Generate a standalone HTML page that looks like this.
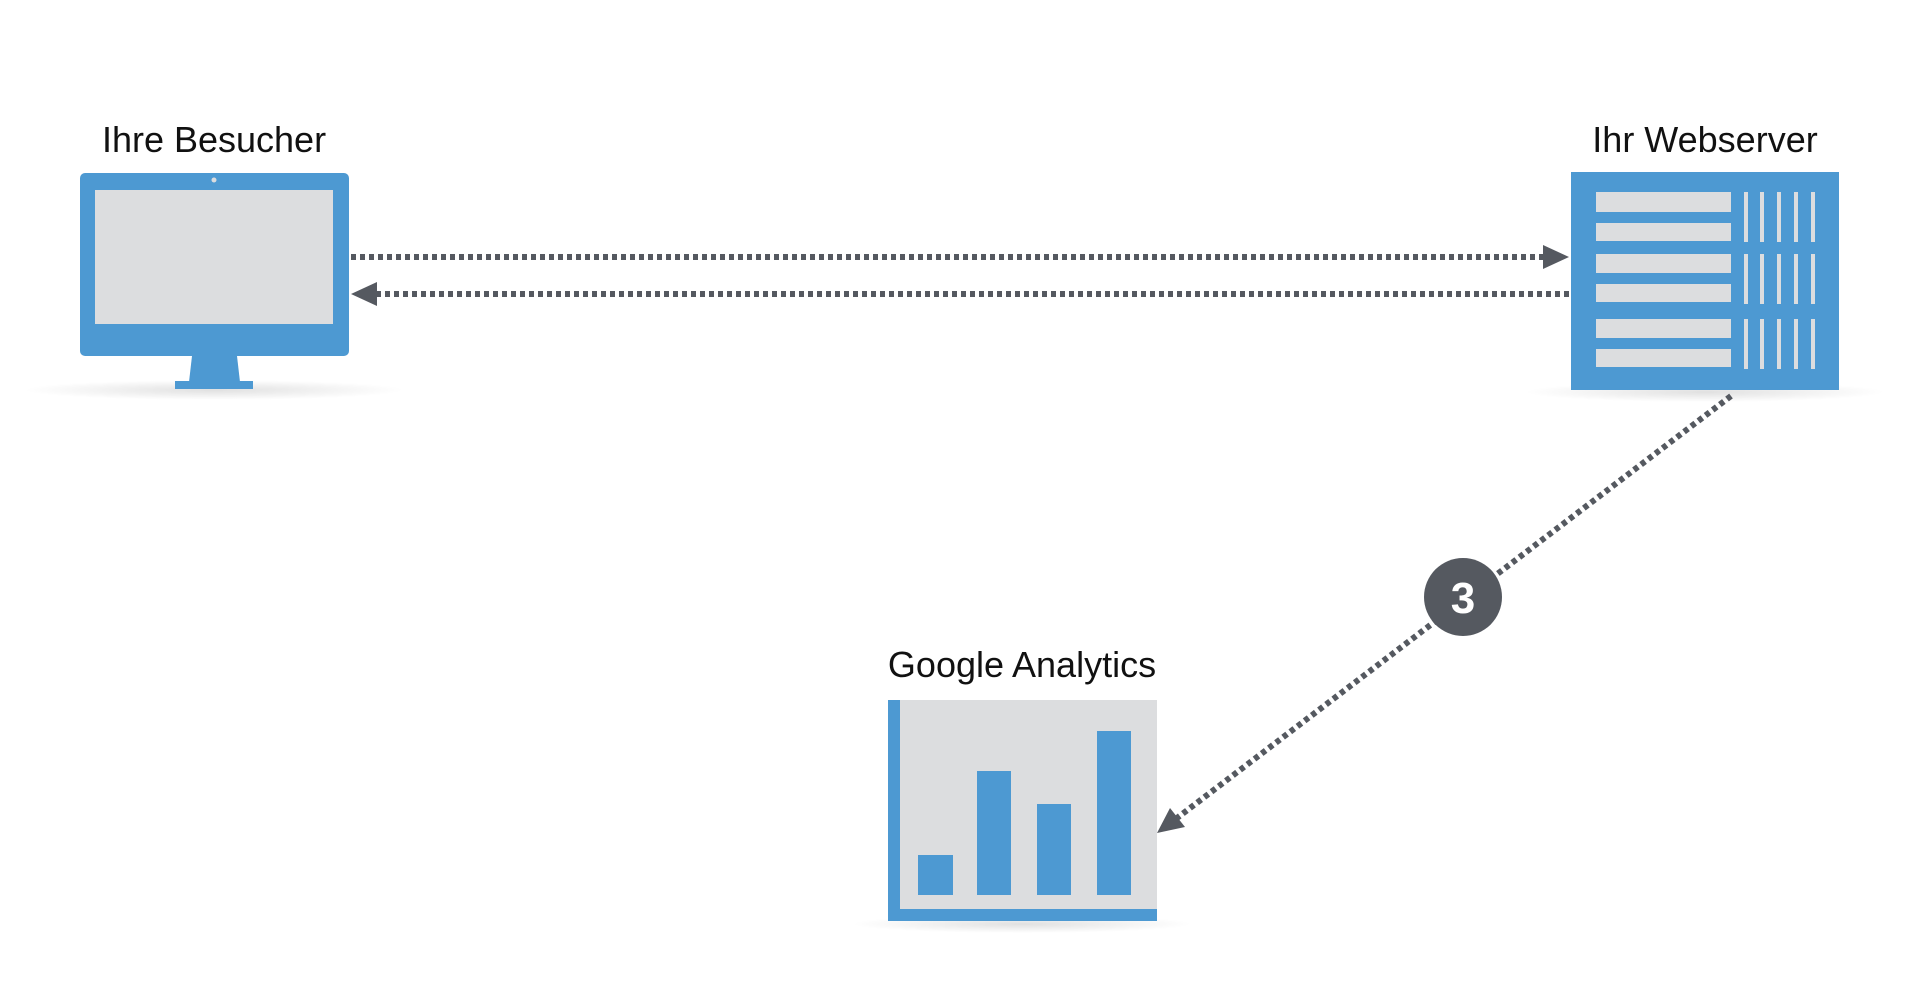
<!DOCTYPE html>
<html><head><meta charset="utf-8"><style>
html,body{margin:0;padding:0;background:#fff;}
svg{display:block}
text{font-family:"Liberation Sans",sans-serif;fill:#111;}
</style></head><body>
<svg width="1920" height="1000" viewBox="0 0 1920 1000" xmlns="http://www.w3.org/2000/svg">
<defs>
<radialGradient id="sh" cx="50%" cy="50%" r="50%">
<stop offset="0" stop-color="#000" stop-opacity="0.12"/><stop offset="1" stop-color="#000" stop-opacity="0"/>
</radialGradient>
</defs>
<ellipse cx="214" cy="390" rx="190" ry="10" fill="url(#sh)"/>
<ellipse cx="1705" cy="392" rx="180" ry="10" fill="url(#sh)"/>
<ellipse cx="1022" cy="924" rx="170" ry="9" fill="url(#sh)"/>

<text x="214" y="152" font-size="36" text-anchor="middle">Ihre Besucher</text>
<text x="1705" y="152" font-size="36" text-anchor="middle">Ihr Webserver</text>
<text x="1022" y="677" font-size="36" text-anchor="middle">Google Analytics</text>

<rect x="80" y="173" width="269" height="183" rx="5" fill="#4d99d2"/>
<rect x="95" y="190" width="238" height="134" fill="#dcdddf"/>
<circle cx="214" cy="180" r="2.5" fill="#dcdddf"/>
<polygon points="192,356 237,356 240,382 189,382" fill="#4d99d2"/>
<rect x="175" y="381" width="78" height="8" fill="#4d99d2"/>

<rect x="1571" y="172" width="268" height="218" fill="#4d99d2"/>
<g fill="#dcdddf">
<rect x="1596" y="192" width="135" height="20"/>
<rect x="1596" y="223" width="135" height="18"/>
<rect x="1596" y="254" width="135" height="19"/>
<rect x="1596" y="284" width="135" height="18"/>
<rect x="1596" y="319" width="135" height="19"/>
<rect x="1596" y="349" width="135" height="18"/>
<g id="vl">
<rect x="1744" y="192" width="4" height="50"/><rect x="1760" y="192" width="4" height="50"/><rect x="1777" y="192" width="4" height="50"/><rect x="1794" y="192" width="4" height="50"/><rect x="1811" y="192" width="4" height="50"/>
</g>
<use href="#vl" y="62"/>
<use href="#vl" y="127"/>
</g>

<rect x="888" y="700" width="269" height="221" fill="#dcdddf"/>
<rect x="888" y="700" width="12" height="221" fill="#4d99d2"/>
<rect x="888" y="909" width="269" height="12" fill="#4d99d2"/>
<rect x="918" y="855" width="35" height="40" fill="#4d99d2"/>
<rect x="977" y="771" width="34" height="124" fill="#4d99d2"/>
<rect x="1037" y="804" width="34" height="91" fill="#4d99d2"/>
<rect x="1097" y="731" width="34" height="164" fill="#4d99d2"/>

<g stroke="#555960" stroke-width="6" stroke-dasharray="5 4" fill="none">
<line x1="351" y1="257" x2="1548" y2="257"/>
<line x1="1569" y1="294" x2="373" y2="294"/>
<line x1="1731" y1="396" x2="1177" y2="818"/>
</g>
<g fill="#555960">
<polygon points="1569,257 1543,245 1543,269"/>
<polygon points="351,294 377,282 377,306"/>
<polygon points="1157,833 1170,808 1185,827"/>
<circle cx="1463" cy="597" r="39"/>
</g>
<text x="1463" y="613" font-size="44" font-weight="bold" text-anchor="middle" style="fill:#fff">3</text>
</svg>
</body></html>
